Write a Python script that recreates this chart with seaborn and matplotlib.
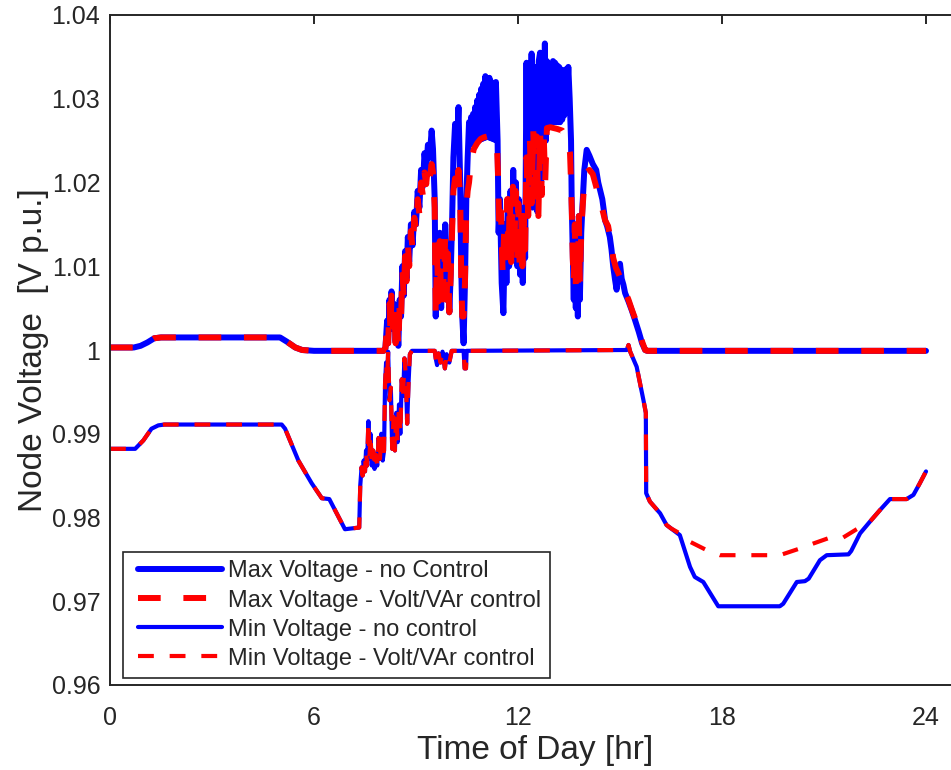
import matplotlib
matplotlib.use("Agg")
import matplotlib.pyplot as plt
import seaborn as sns
import pandas as pd
from matplotlib.ticker import FixedLocator, FixedFormatter
from matplotlib.legend_handler import HandlerLine2D

# ---- data: (hour, voltage p.u.) ----
max_no_ctrl = [
    (0.00, 1.0003), (0.70, 1.0003), (0.90, 1.0005), (1.10, 1.0009), (1.30, 1.0014),
    (1.50, 1.0015), (5.00, 1.0015), (5.20, 1.0010), (5.45, 1.0003), (5.65, 1.0000),
    (6.00, 0.9999), (8.05, 0.9999),
    (8.10, 1.0002), (8.15, 1.0035), (8.18, 1.0008), (8.22, 1.0060), (8.25, 1.0025),
    (8.28, 1.0070), (8.32, 1.0030), (8.36, 1.0055), (8.40, 1.0010), (8.44, 1.0045),
    (8.48, 1.0005), (8.52, 1.0060), (8.56, 1.0040), (8.60, 1.0100), (8.64, 1.0065),
    (8.68, 1.0118), (8.72, 1.0085), (8.76, 1.0135), (8.80, 1.0105), (8.85, 1.0150),
    (8.90, 1.0125), (8.95, 1.0165), (9.00, 1.0150), (9.05, 1.0190), (9.10, 1.0170),
    (9.15, 1.0215), (9.20, 1.0195), (9.25, 1.0235), (9.30, 1.0215), (9.35, 1.0245),
    (9.40, 1.0230), (9.46, 1.0262), (9.50, 1.0240), (9.55, 1.0180), (9.58, 1.0040),
    (9.62, 1.0120), (9.66, 1.0060), (9.70, 1.0140), (9.74, 1.0050), (9.78, 1.0130),
    (9.82, 1.0070), (9.86, 1.0150), (9.90, 1.0060), (9.94, 1.0120), (9.98, 1.0045),
    (10.02, 1.0090), (10.06, 1.0150), (10.10, 1.0230), (10.15, 1.0270), (10.20, 1.0240),
    (10.25, 1.0290), (10.30, 1.0200), (10.33, 1.0100), (10.36, 1.0040), (10.40, 1.0008),
    (10.44, 1.0080), (10.48, 1.0180), (10.52, 1.0230), (10.56, 1.0272), (10.59, 1.0245),
    (10.62, 1.0278), (10.65, 1.0246), (10.68, 1.0282), (10.71, 1.0247), (10.74, 1.0290),
    (10.77, 1.0248), (10.80, 1.0298), (10.83, 1.0250), (10.86, 1.0305), (10.89, 1.0251),
    (10.92, 1.0312), (10.95, 1.0252), (10.98, 1.0318), (11.01, 1.0253), (11.04, 1.0327),
    (11.07, 1.0254), (11.10, 1.0322), (11.13, 1.0254), (11.16, 1.0325), (11.19, 1.0253),
    (11.22, 1.0320), (11.25, 1.0252), (11.28, 1.0318), (11.31, 1.0251), (11.35, 1.0320),
    (11.40, 1.0250), (11.43, 1.0140), (11.47, 1.0180), (11.52, 1.0080), (11.57, 1.0044),
    (11.62, 1.0150), (11.66, 1.0080), (11.70, 1.0180), (11.74, 1.0100), (11.78, 1.0190),
    (11.82, 1.0110), (11.86, 1.0215), (11.90, 1.0120), (11.94, 1.0200), (11.98, 1.0100),
    (12.02, 1.0180), (12.06, 1.0090), (12.10, 1.0170), (12.14, 1.0080), (12.18, 1.0150),
    (12.21, 1.0110), (12.25, 1.0343), (12.28, 1.0180), (12.32, 1.0340), (12.35, 1.0200),
    (12.40, 1.0354), (12.43, 1.0170), (12.47, 1.0330), (12.50, 1.0190), (12.54, 1.0338),
    (12.57, 1.0165), (12.61, 1.0345), (12.65, 1.0355), (12.68, 1.0200), (12.72, 1.0345),
    (12.75, 1.0230), (12.79, 1.0366), (12.82, 1.0250), (12.85, 1.0345), (12.88, 1.0272),
    (12.91, 1.0342), (12.94, 1.0272), (12.97, 1.0340), (13.00, 1.0272), (13.03, 1.0345),
    (13.06, 1.0272), (13.09, 1.0343), (13.12, 1.0272), (13.15, 1.0340), (13.18, 1.0272),
    (13.21, 1.0338), (13.24, 1.0272), (13.27, 1.0335), (13.30, 1.0275), (13.33, 1.0333),
    (13.36, 1.0280), (13.40, 1.0335), (13.43, 1.0290), (13.48, 1.0338), (13.52, 1.0300),
    (13.56, 1.0250), (13.58, 1.0175), (13.61, 1.0120), (13.64, 1.0060), (13.67, 1.0150),
    (13.70, 1.0050), (13.73, 1.0130), (13.76, 1.0040), (13.79, 1.0160), (13.82, 1.0060),
    (13.86, 1.0140), (13.90, 1.0175), (13.95, 1.0215), (14.02, 1.0239), (14.10, 1.0232),
    (14.20, 1.0222), (14.30, 1.0215), (14.36, 1.0200), (14.42, 1.0190), (14.48, 1.0180),
    (14.53, 1.0165), (14.56, 1.0155), (14.62, 1.0148), (14.70, 1.0135), (14.75, 1.0120),
    (14.80, 1.0100), (14.85, 1.0085), (14.90, 1.0072), (14.95, 1.0095), (15.00, 1.0103),
    (15.05, 1.0085), (15.10, 1.0078), (15.15, 1.0068), (15.25, 1.0058), (15.35, 1.0047),
    (15.44, 1.0036), (15.55, 1.0022), (15.65, 1.0008), (15.74, 1.0000), (15.80, 0.9999),
    (24.00, 0.9999),
]

max_voltvar = [
    (0.00, 1.0003), (0.70, 1.0003), (0.90, 1.0005), (1.10, 1.0009), (1.30, 1.0014),
    (1.50, 1.0015), (5.00, 1.0015), (5.20, 1.0010), (5.45, 1.0003), (5.65, 1.0000),
    (6.00, 0.9999), (8.05, 0.9999),
    (8.10, 1.0002), (8.15, 1.0030), (8.18, 1.0008), (8.22, 1.0055), (8.25, 1.0020),
    (8.28, 1.0065), (8.32, 1.0028), (8.36, 1.0050), (8.40, 1.0008), (8.44, 1.0040),
    (8.48, 1.0003), (8.52, 1.0055), (8.56, 1.0038), (8.60, 1.0095), (8.64, 1.0062),
    (8.68, 1.0112), (8.72, 1.0082), (8.76, 1.0128), (8.80, 1.0100), (8.85, 1.0142),
    (8.90, 1.0120), (8.95, 1.0158), (9.00, 1.0145), (9.05, 1.0180), (9.10, 1.0162),
    (9.15, 1.0200), (9.20, 1.0185), (9.25, 1.0212), (9.30, 1.0198), (9.35, 1.0220),
    (9.40, 1.0205), (9.46, 1.0222), (9.50, 1.0212), (9.55, 1.0170), (9.58, 1.0040),
    (9.62, 1.0115), (9.66, 1.0058), (9.70, 1.0130), (9.74, 1.0050), (9.78, 1.0125),
    (9.82, 1.0068), (9.86, 1.0140), (9.90, 1.0060), (9.94, 1.0115), (9.98, 1.0045),
    (10.02, 1.0088), (10.06, 1.0140), (10.10, 1.0190), (10.15, 1.0205), (10.20, 1.0190),
    (10.25, 1.0215), (10.30, 1.0180), (10.33, 1.0090), (10.36, 1.0040), (10.40, 1.0040),
    (10.44, 1.0080), (10.48, 1.0170), (10.52, 1.0190), (10.56, 1.0200), (10.62, 1.0225),
    (10.70, 1.0240), (10.80, 1.0247), (10.90, 1.0252), (11.00, 1.0254), (11.10, 1.0255),
    (11.20, 1.0253), (11.30, 1.0251), (11.38, 1.0248), (11.42, 1.0200), (11.45, 1.0140),
    (11.50, 1.0165), (11.55, 1.0090), (11.60, 1.0150), (11.64, 1.0095), (11.68, 1.0180),
    (11.72, 1.0110), (11.76, 1.0185), (11.80, 1.0105), (11.85, 1.0195), (11.89, 1.0110),
    (11.93, 1.0190), (11.97, 1.0100), (12.01, 1.0175), (12.05, 1.0095), (12.09, 1.0165),
    (12.13, 1.0100), (12.17, 1.0160), (12.21, 1.0120), (12.25, 1.0230), (12.30, 1.0160),
    (12.35, 1.0250), (12.40, 1.0175), (12.45, 1.0262), (12.50, 1.0170), (12.55, 1.0255),
    (12.60, 1.0160), (12.65, 1.0262), (12.70, 1.0185), (12.75, 1.0264), (12.80, 1.0200),
    (12.85, 1.0265), (12.95, 1.0266), (13.05, 1.0265), (13.15, 1.0264), (13.30, 1.0262),
    (13.40, 1.0255), (13.48, 1.0247), (13.53, 1.0235), (13.56, 1.0200), (13.58, 1.0170),
    (13.61, 1.0110), (13.64, 1.0080), (13.67, 1.0150), (13.70, 1.0075), (13.73, 1.0130),
    (13.76, 1.0078), (13.79, 1.0160), (13.82, 1.0080), (13.86, 1.0140), (13.90, 1.0170),
    (13.95, 1.0200), (14.02, 1.0212), (14.10, 1.0215), (14.20, 1.0210), (14.30, 1.0195),
    (14.36, 1.0183), (14.42, 1.0175), (14.48, 1.0168), (14.56, 1.0155), (14.65, 1.0148),
    (14.75, 1.0125), (14.80, 1.0110), (14.88, 1.0098), (14.95, 1.0092), (15.05, 1.0082),
    (15.15, 1.0070), (15.25, 1.0060), (15.35, 1.0048), (15.44, 1.0038), (15.55, 1.0025),
    (15.65, 1.0010), (15.74, 1.0000), (15.80, 0.9999), (24.00, 0.9999),
]

# minimum voltage, identical for both cases until late afternoon
min_common = [
    (0.00, 0.9882), (0.74, 0.9882), (0.98, 0.9892), (1.22, 0.9906), (1.42, 0.9910),
    (1.60, 0.9911), (5.05, 0.9911), (5.15, 0.9906), (5.54, 0.9868), (5.93, 0.9841),
    (6.23, 0.9823), (6.45, 0.9822), (6.91, 0.9786), (7.33, 0.9788),
    (7.36, 0.9838), (7.40, 0.9860), (7.43, 0.9850), (7.46, 0.9868), (7.50, 0.9855),
    (7.53, 0.9880), (7.56, 0.9862), (7.60, 0.9915), (7.63, 0.9870), (7.66, 0.9900),
    (7.70, 0.9862), (7.74, 0.9880), (7.78, 0.9858), (7.82, 0.9875), (7.86, 0.9862),
    (7.90, 0.9895), (7.94, 0.9870), (7.98, 0.9900), (8.02, 0.9868), (8.06, 0.9880),
    (8.09, 0.9960), (8.12, 0.9985), (8.15, 0.9960), (8.18, 0.9998), (8.22, 0.9940),
    (8.26, 0.9955), (8.30, 0.9882), (8.34, 0.9920), (8.38, 0.9880), (8.42, 0.9925),
    (8.46, 0.9890), (8.50, 0.9935), (8.54, 0.9900), (8.58, 0.9965), (8.62, 0.9945),
    (8.66, 0.9990), (8.70, 0.9970), (8.74, 0.9912), (8.78, 0.9960), (8.82, 0.9995),
    (8.88, 0.9999), (9.55, 0.9999), (9.58, 0.9990), (9.62, 0.9982), (9.66, 0.9996),
    (9.72, 0.9985), (9.78, 0.9998), (9.85, 0.9978), (9.90, 0.9995), (9.98, 0.9985),
    (10.05, 0.9999), (10.40, 0.9999), (10.43, 0.9978), (10.47, 0.9978), (10.49, 0.9999),
    (15.20, 1.0000), (15.25, 1.0006), (15.30, 0.9998), (15.49, 0.9980), (15.69, 0.9940),
    (15.76, 0.9925), (15.77, 0.9829), (15.88, 0.9819), (16.18, 0.9805), (16.37, 0.9791),
    (16.50, 0.9787),
]

min_no_ctrl_tail = [
    (16.76, 0.9779), (17.06, 0.9741), (17.20, 0.9729), (17.45, 0.9723), (17.89, 0.9694),
    (19.70, 0.9694), (19.80, 0.9697), (20.20, 0.9723), (20.44, 0.9724), (20.55, 0.9727),
    (20.88, 0.9749), (21.08, 0.9755), (21.72, 0.9756), (21.80, 0.9760), (22.06, 0.9781),
    (22.35, 0.9795), (22.65, 0.9809), (22.94, 0.9822), (23.43, 0.9822), (23.63, 0.9827),
    (23.82, 0.9841), (24.00, 0.9855),
]

min_voltvar_tail = [
    (16.76, 0.9781), (17.06, 0.9771), (17.55, 0.9761), (17.94, 0.9755), (19.70, 0.9755),
    (20.29, 0.9763), (20.69, 0.9769), (21.18, 0.9776), (21.56, 0.9776), (21.96, 0.9786),
    (22.35, 0.9795), (22.65, 0.9809), (22.94, 0.9822), (23.43, 0.9822), (23.63, 0.9827),
    (23.82, 0.9841), (24.00, 0.9855),
]

labels = [
    "Max Voltage - no Control",
    "Max Voltage - Volt/VAr control",
    "Min Voltage - no control",
    "Min Voltage - Volt/VAr control",
]
x_ticks = [0, 6, 12, 18, 24]
y_ticks = [0.96, 0.97, 0.98, 0.99, 1.00, 1.01, 1.02, 1.03, 1.04]
y_tick_labels = ["0.96", "0.97", "0.98", "0.99", "1", "1.01", "1.02", "1.03", "1.04"]

series = [
    max_no_ctrl,
    max_voltvar,
    min_common + min_no_ctrl_tail,
    min_common + min_voltvar_tail,
]


class InsetLineHandler(HandlerLine2D):
    """Legend line handle with a little blank space before it."""

    def create_artists(self, legend, orig_handle, xdescent, ydescent, width,
                       height, fontsize, trans):
        pad = 0.27 * fontsize
        return super().create_artists(legend, orig_handle, xdescent - pad, ydescent,
                                      width - pad, height, fontsize, trans)


# ---- styling ----
sns.set_style("white")
ink = "#262626"
plt.rcParams["font.family"] = ["Liberation Sans", "DejaVu Sans"]
plt.rcParams["text.color"] = ink
plt.rcParams["axes.labelcolor"] = ink
plt.rcParams["xtick.color"] = ink
plt.rcParams["ytick.color"] = ink

fig = plt.figure(figsize=(9.51, 7.70), dpi=100)
ax = fig.add_axes([110 / 951, 85 / 770, 850 / 951, 670 / 770])

styles = [
    dict(color="#0000ff", linewidth=4.3, linestyle="-"),
    dict(color="#ff0000", linewidth=4.3, linestyle=(0, (3.8, 3.8))),
    dict(color="#0000ff", linewidth=3.0, linestyle="-"),
    dict(color="#ff0000", linewidth=3.0, linestyle=(0, (3.8, 3.8))),
]

for data, lab, st in zip(series, labels, styles):
    df = pd.DataFrame(data, columns=["hour", "volt"])
    sns.lineplot(data=df, x="hour", y="volt", ax=ax, estimator=None, sort=False,
                 label=lab, **st)

ax.set_xlim(0, 25)
ax.set_ylim(0.96, 1.04)
ax.xaxis.set_major_locator(FixedLocator(x_ticks))
ax.yaxis.set_major_locator(FixedLocator(y_ticks))
ax.yaxis.set_major_formatter(FixedFormatter(y_tick_labels))
ax.tick_params(direction="in", length=6.5, width=1.4, top=True, right=True,
               labelsize=18)
ax.tick_params(axis="y", pad=7)
ax.tick_params(axis="x", pad=15)

for sp in ax.spines.values():
    sp.set_visible(True)
    sp.set_color(ink)
    sp.set_linewidth(1.4)

ax.set_xlabel("Time of Day [hr]", fontsize=24, labelpad=4)
ax.set_ylabel("Node Voltage  [V p.u.]", fontsize=24, labelpad=2)

handles, _ = ax.get_legend_handles_labels()
leg = ax.legend(handles, labels, loc="lower left",
                bbox_to_anchor=(13 / 850, 7 / 670), borderaxespad=0,
                fontsize=17, frameon=True, fancybox=False, framealpha=1,
                handlelength=3.85, handletextpad=0.26, labelspacing=0.3,
                borderpad=0.35,
                handler_map={h: InsetLineHandler() for h in handles})
leg.get_frame().set_edgecolor(ink)
leg.get_frame().set_linewidth(1.2)

fig.savefig("out.png", dpi=100)
